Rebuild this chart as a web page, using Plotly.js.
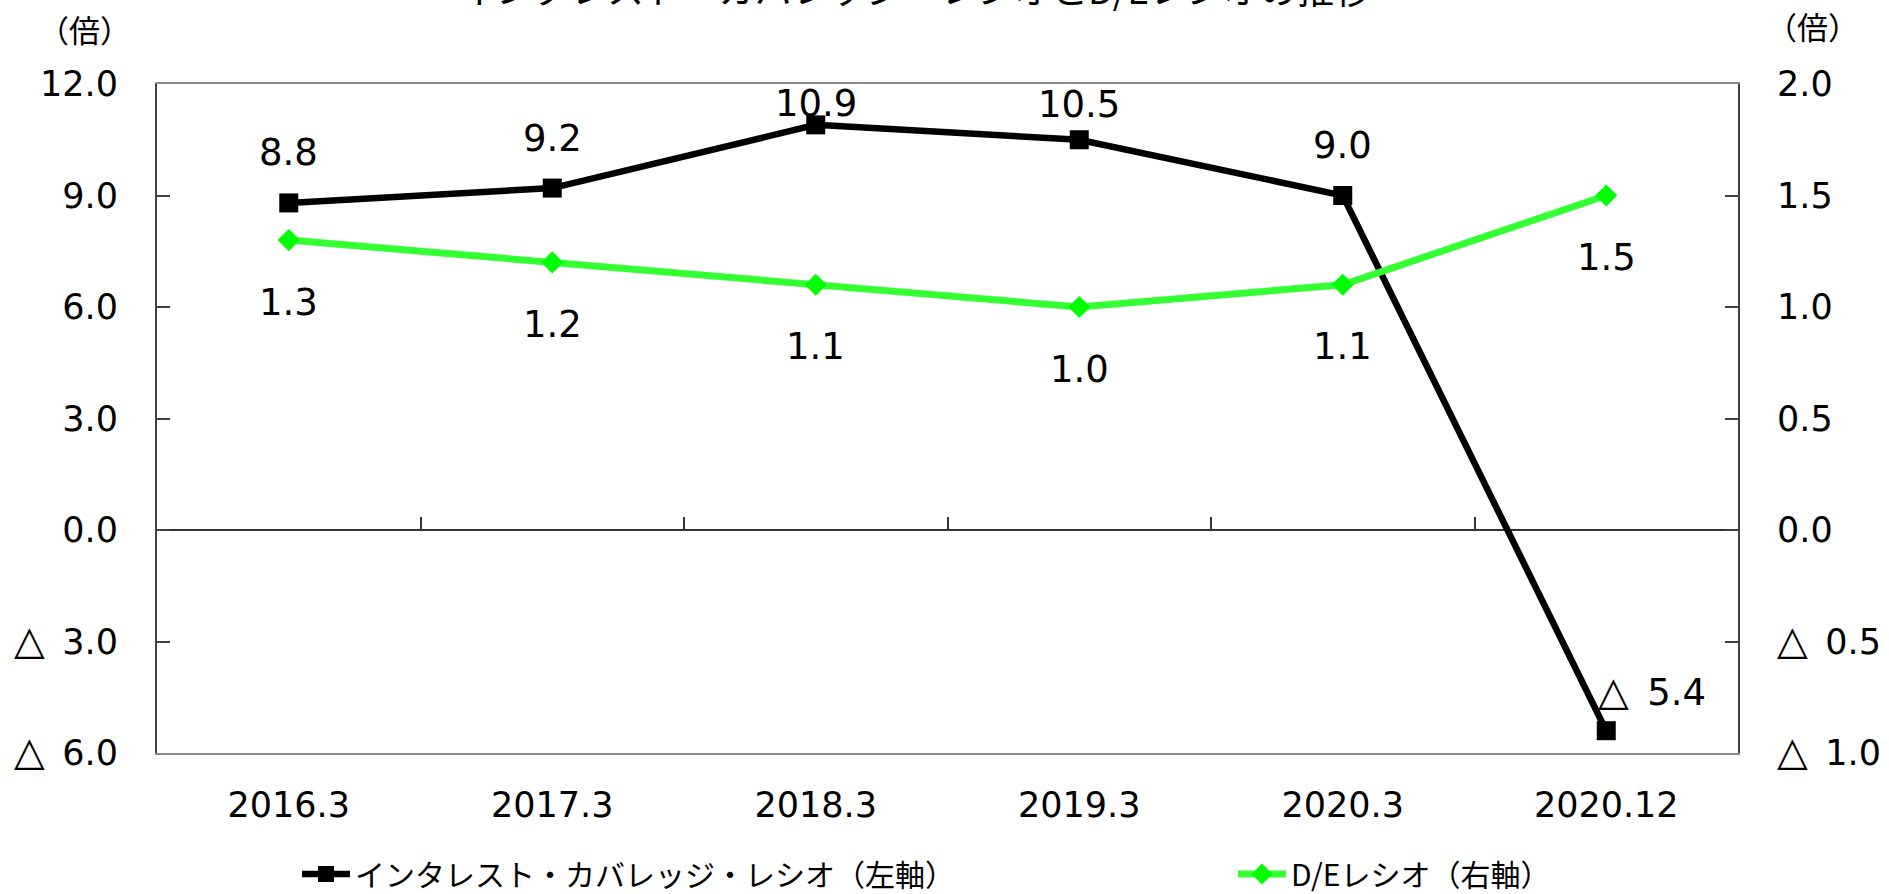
<!DOCTYPE html>
<html>
<head>
<meta charset="utf-8">
<script src="https://cdn.plot.ly/plotly-3.0.1.min.js"></script>
<style>html,body{margin:0;padding:0;background:#fff;}#chart{width:1889px;height:894px;}</style>
</head>
<body>
<div id="chart"></div>
<script>
// ---- data ----
const titleText = "インタレスト・カバレッジ・レシオとD/Eレシオの推移";
const categories = ["2016.3", "2017.3", "2018.3", "2019.3", "2020.3", "2020.12"];
const icrName = "インタレスト・カバレッジ・レシオ（左軸）";
const icrValues = [8.8, 9.2, 10.9, 10.5, 9.0, -5.4];
const deName = "D/Eレシオ（右軸）";
const deValues = [1.3, 1.2, 1.1, 1.0, 1.1, 1.5];
const leftTickVals = [12, 9, 6, 3, 0, -3, -6];
const rightTickVals = [2, 1.5, 1, 0.5, 0, -0.5, -1];
const unitLabel = "（倍）";

// ---- helpers ----
const fmt = v => (v < 0 ? "<span style='font-size:40px'>△</span>\u2002" : "") + Math.abs(v).toFixed(1);
const idx = categories.map((c, i) => i);
const boundaries = categories.slice(1).map((c, i) => i + 0.5);

const numFont = "DejaVu Sans, Verdana, sans-serif";
const jpFont = "Noto Sans CJK JP, DejaVu Sans, sans-serif";

const W = 1889, H = 894;
const M = {l: 157, r: 151, t: 84, b: 141, autoexpand: false};
const plotH = H - M.t - M.b;
const plotW = W - M.l - M.r;
const leftRange = [-6, 12];
const pxPerUnit = plotH / (leftRange[1] - leftRange[0]);
const px2x = px => (px - M.l) / plotW;
const px2y = py => (H - M.b - py) / plotH;

const traces = [
  {
    x: idx, y: icrValues, name: icrName, type: "scatter", mode: "lines+markers",
    line: {color: "#000000", width: 6.5},
    marker: {symbol: "square", size: 19, color: "#000000"},
    xaxis: "x", yaxis: "y", legend: "legend", hoverinfo: "skip"
  },
  {
    x: idx, y: deValues, name: deName, type: "scatter", mode: "lines+markers",
    line: {color: "#33ff33", width: 7},
    marker: {symbol: "diamond", size: 17, color: "#00ff00"},
    xaxis: "x", yaxis: "y2", legend: "legend2", hoverinfo: "skip"
  },
  {
    x: idx, y: icrValues, type: "scatter", mode: "lines", opacity: 0,
    line: {width: 0}, xaxis: "x2", yaxis: "y", showlegend: false, hoverinfo: "skip"
  }
];

const annotations = [];
icrValues.forEach((v, i) => {
  if (v < 0) {
    annotations.push({x: i, y: v, xref: "x", yref: "y", text: fmt(v), showarrow: false,
      xshift: 46, yshift: 40, font: {family: numFont, size: 37, color: "#000"}});
  } else {
    const toTop = (leftRange[1] - v) * pxPerUnit;
    annotations.push({x: i, y: v, xref: "x", yref: "y", text: fmt(v), showarrow: false,
      yanchor: "middle", yshift: Math.min(50, toTop - 20), font: {family: numFont, size: 37, color: "#000"}});
  }
});
deValues.forEach((v, i) => {
  annotations.push({x: i, y: v, xref: "x", yref: "y2", text: fmt(v), showarrow: false,
    yanchor: "middle", yshift: -62, font: {family: numFont, size: 37, color: "#000"}});
});
annotations.push({x: px2x(915), y: px2y(17), xref: "paper", yref: "paper", xanchor: "center", yanchor: "bottom",
  text: titleText, showarrow: false, font: {family: jpFont, size: 37, color: "#000"}});
annotations.push({x: px2x(84), y: px2y(29), xref: "paper", yref: "paper", xanchor: "center", yanchor: "middle",
  text: unitLabel, showarrow: false, font: {family: jpFont, size: 31, color: "#000"}});
annotations.push({x: px2x(1812), y: px2y(26), xref: "paper", yref: "paper", xanchor: "center", yanchor: "middle",
  text: unitLabel, showarrow: false, font: {family: jpFont, size: 31, color: "#000"}});

const layout = {
  width: W, height: H,
  margin: M,
  paper_bgcolor: "#ffffff", plot_bgcolor: "#ffffff",
  font: {family: numFont, size: 35, color: "#000"},
  showlegend: true,
  xaxis: {
    range: [-0.5, categories.length - 0.5], tickvals: idx, ticktext: categories,
    showgrid: false, zeroline: false, ticks: "", showline: true, mirror: true,
    linecolor: "#8c8c8c", linewidth: 2, ticklabelstandoff: 20,
    tickfont: {family: numFont, size: 35, color: "#000"}
  },
  xaxis2: {
    overlaying: "x", anchor: "free", position: (0 - leftRange[0]) / (leftRange[1] - leftRange[0]),
    side: "bottom", range: [-0.5, categories.length - 0.5], tickvals: boundaries,
    ticks: "inside", ticklen: 13, tickwidth: 2, tickcolor: "#333", showticklabels: false,
    showgrid: false, zeroline: false, showline: false
  },
  yaxis: {
    range: leftRange, tickvals: leftTickVals, ticktext: leftTickVals.map(fmt),
    showgrid: false, zeroline: true, zerolinecolor: "#333", zerolinewidth: 2,
    ticks: "inside", ticklen: 13, tickwidth: 2, tickcolor: "#404040",
    showline: true, linecolor: "#404040", linewidth: 2, ticklabelstandoff: 30,
    tickfont: {family: numFont, size: 35, color: "#000"}
  },
  yaxis2: {
    overlaying: "y", side: "right", range: [-1, 2], tickvals: rightTickVals, ticktext: rightTickVals.map(fmt),
    showgrid: false, zeroline: false,
    ticks: "inside", ticklen: 13, tickwidth: 2, tickcolor: "#404040",
    showline: true, linecolor: "#404040", linewidth: 2, ticklabelstandoff: 30,
    tickfont: {family: numFont, size: 35, color: "#000"}
  },
  legend: {x: px2x(297), y: px2y(874), xanchor: "left", yanchor: "middle", itemwidth: 48,
    orientation: "h", bgcolor: "rgba(0,0,0,0)", font: {family: jpFont, size: 30, color: "#000"}},
  legend2: {x: px2x(1233), y: px2y(874), xanchor: "left", yanchor: "middle", itemwidth: 48,
    orientation: "h", bgcolor: "rgba(0,0,0,0)", font: {family: jpFont, size: 30, color: "#000"}},
  annotations: annotations
};

Plotly.newPlot("chart", traces, layout, {displayModeBar: false, staticPlot: true});
</script>
</body>
</html>
